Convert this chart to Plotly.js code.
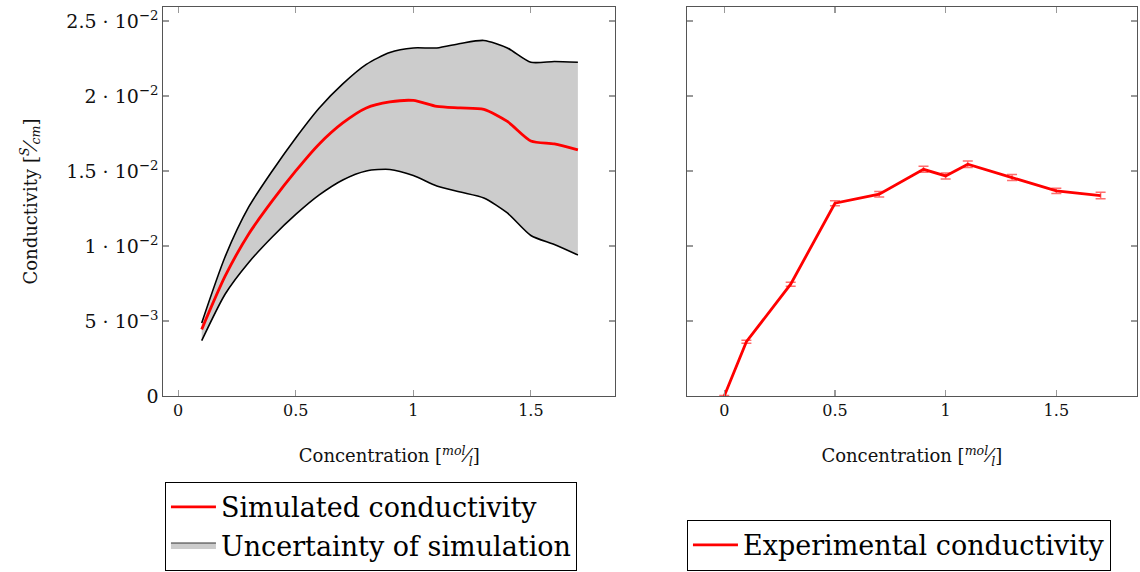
<!DOCTYPE html>
<html>
<head>
<meta charset="utf-8">
<script src="https://cdn.plot.ly/plotly-3.0.1.min.js"></script>
<style>html,body{margin:0;padding:0;background:#fff}#chart{width:1140px;height:572px}</style>
</head>
<body>
<div id="chart"></div>
<script>
// Simulation (left panel)
const simX = [0.1, 0.2, 0.3, 0.4, 0.5, 0.6, 0.7, 0.8, 0.9, 1.0, 1.1, 1.2, 1.3, 1.4, 1.5, 1.6, 1.7];
const simMean  = [0.00444, 0.0080, 0.0108, 0.0130, 0.0150, 0.0168, 0.0182, 0.0192, 0.0196, 0.0197, 0.0193, 0.0192, 0.0191, 0.0183, 0.0170, 0.0168, 0.0164];
const simUpper = [0.00487, 0.0093, 0.0126, 0.0150, 0.0172, 0.0192, 0.0208, 0.0221, 0.0229, 0.0232, 0.0232, 0.0235, 0.0237, 0.0232, 0.02225, 0.0223, 0.02225];
const simLower = [0.00369, 0.0068, 0.0089, 0.0106, 0.0121, 0.0134, 0.0144, 0.0150, 0.0151, 0.0147, 0.0140, 0.0136, 0.0132, 0.0122, 0.0107, 0.0101, 0.0094];

// Experiment (right panel)
const expX = [0, 0.1, 0.3, 0.5, 0.7, 0.9, 1.0, 1.1, 1.3, 1.5, 1.7];
const expY = [0, 0.00362, 0.00745, 0.01285, 0.01345, 0.01511, 0.01467, 0.01545, 0.01456, 0.01367, 0.01336];
const expErr = [0.00003, 0.0001, 0.00014, 0.00017, 0.00018, 0.0002, 0.0002, 0.00022, 0.0002, 0.00018, 0.00022];

// Axis ticks
const yTickVals = [0, 0.005, 0.01, 0.015, 0.02, 0.025];
const yTickText = ['0', '5 · 10<sup>−3</sup>', '1 · 10<sup>−2</sup>', '1.5 · 10<sup>−2</sup>', '2 · 10<sup>−2</sup>', '2.5 · 10<sup>−2</sup>'];
const xTickVals = [0, 0.5, 1, 1.5];
const xTickText = ['0', '0.5', '1', '1.5'];

const FONT = "'DejaVu Serif', 'Liberation Serif', serif";

const traces = [
  {x: simX, y: simLower, type: 'scatter', mode: 'lines', line: {color: '#000', width: 1.6, shape: 'spline', smoothing: 0.7},
   showlegend: false, xaxis: 'x', yaxis: 'y', hoverinfo: 'skip'},
  {x: simX, y: simUpper, type: 'scatter', mode: 'lines', line: {color: '#000', width: 1.6, shape: 'spline', smoothing: 0.7},
   fill: 'tonexty', fillcolor: '#cccccc', showlegend: false, xaxis: 'x', yaxis: 'y'},
  {x: simX, y: simMean, type: 'scatter', mode: 'lines', line: {color: '#ff0000', width: 2.8, shape: 'spline', smoothing: 0.7},
   name: 'Simulated conductivity', legend: 'legend', legendrank: 1, xaxis: 'x', yaxis: 'y'},
  // legend entry for the shaded band
  {x: [null], y: [null], type: 'scatter', mode: 'lines', fill: 'toself', fillcolor: '#cccccc',
   line: {color: '#333', width: 1}, name: 'Uncertainty of simulation', legend: 'legend', legendrank: 2,
   xaxis: 'x', yaxis: 'y'},
  {x: expX, y: expY, type: 'scatter', mode: 'lines', line: {color: '#ff0000', width: 2.8},
   error_y: {type: 'data', array: expErr, visible: true, color: 'rgba(255,60,60,0.75)', thickness: 1.5, width: 5},
   name: 'Experimental conductivity', legend: 'legend2', xaxis: 'x2', yaxis: 'y2'}
];

const axisCommon = {
  showline: true, linecolor: '#555', linewidth: 1.2, mirror: 'allticks',
  ticks: 'inside', ticklen: 6, tickcolor: '#999', tickwidth: 1.2,
  showgrid: false, zeroline: false,
  tickfont: {family: FONT, size: 16, color: '#111'}
};
const titleFont = {family: FONT, size: 18, color: '#111'};

const layout = {
  width: 1140, height: 572,
  margin: {l: 0, r: 0, t: 0, b: 0},
  paper_bgcolor: '#fff', plot_bgcolor: '#fff',
  font: {family: FONT, color: '#111'},
  xaxis: Object.assign({}, axisCommon, {
    domain: [0.1434, 0.5395], range: [-0.0626, 1.858],
    tickvals: xTickVals, ticktext: xTickText, anchor: 'y',
    title: {text: 'Concentration [<i><sup>mol</sup>⁄<sub>l</sub></i>]', font: titleFont, standoff: 30}
  }),
  yaxis: Object.assign({}, axisCommon, {
    domain: [0.3077, 0.9878], range: [0, 0.02593],
    tickvals: yTickVals, ticktext: yTickText, anchor: 'x',
    tickfont: {family: FONT, size: 19, color: '#111'},
    title: {text: 'Conductivity [<i><sup>S</sup>⁄<sub>cm</sub></i>]', font: titleFont, standoff: 24}
  }),
  xaxis2: Object.assign({}, axisCommon, {
    domain: [0.6026, 0.9971], range: [-0.1685, 1.863],
    tickvals: xTickVals, ticktext: xTickText, anchor: 'y2',
    title: {text: 'Concentration [<i><sup>mol</sup>⁄<sub>l</sub></i>]', font: titleFont, standoff: 30}
  }),
  yaxis2: Object.assign({}, axisCommon, {
    domain: [0.3077, 0.9878], range: [0, 0.02593],
    tickvals: yTickVals, showticklabels: false, anchor: 'x2'
  }),
  legend: {
    x: 0.1447, y: 0.002, xanchor: 'left', yanchor: 'bottom', traceorder: 'normal',
    bordercolor: '#000', borderwidth: 1, bgcolor: '#fff',
    font: {family: FONT, size: 27, color: '#000'}, itemwidth: 45, tracegroupgap: 0
  },
  legend2: {
    x: 0.6026, y: 0.002, xanchor: 'left', yanchor: 'bottom',
    bordercolor: '#000', borderwidth: 1, bgcolor: '#fff',
    font: {family: FONT, size: 27, color: '#000'}, itemwidth: 45
  },
  showlegend: true
};

Plotly.newPlot('chart', traces, layout, {displayModeBar: false, staticPlot: true});
</script>
</body>
</html>
